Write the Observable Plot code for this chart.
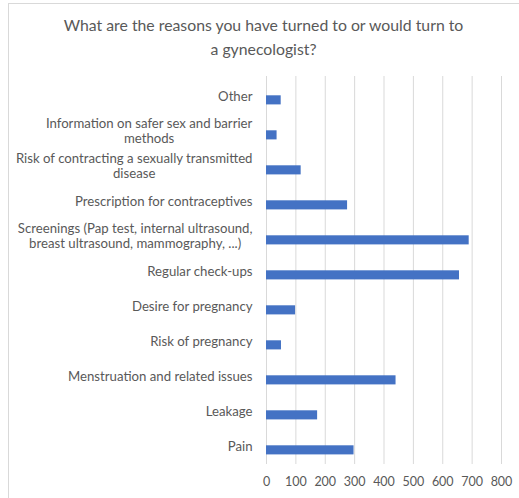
<!DOCTYPE html>
<html><head><meta charset="utf-8">
<script src="https://cdn.jsdelivr.net/npm/d3@7"></script>
<script src="https://cdn.jsdelivr.net/npm/@observablehq/plot@0.6"></script>
<style>
html,body{margin:0;padding:0;background:#fff;overflow:hidden;width:519px;height:498px;}
#frame{position:absolute;left:8px;top:3px;width:530px;height:530px;border:1px solid #d9d9d9;box-sizing:border-box;}
#title{position:absolute;left:8px;top:0;width:511px;text-align:center;font-family:Lato;font-size:15.8px;color:#595959;line-height:24px;padding-top:13px;}
#chart{position:absolute;left:0;top:66px;}
</style></head><body>
<div id="frame"></div>
<div id="title">What are the reasons you have turned to or would turn to<br>a gynecologist?</div>
<div id="chart"></div>
<script>
const categories = [
  "Other",
  "Information on safer sex and barrier\nmethods",
  "Risk of contracting a sexually transmitted\ndisease",
  "Prescription for contraceptives",
  "Screenings (Pap test, internal ultrasound,\nbreast ultrasound, mammography, ...)",
  "Regular check-ups",
  "Desire for pregnancy",
  "Risk of pregnancy",
  "Menstruation and related issues",
  "Leakage",
  "Pain"
];
const counts = [50, 36, 118, 276, 690, 657, 99, 51, 441, 174, 298];
const xTicks = [0, 100, 200, 300, 400, 500, 600, 700, 800];
const data = categories.map((c, i) => ({reason: c, count: counts[i]}));

const plot = Plot.plot({
  width: 519, height: 432,
  marginTop: 10, marginBottom: 34, marginLeft: 266, marginRight: 18,
  style: {fontFamily: "Lato", color: "#595959", background: "transparent", overflow: "visible"},
  x: {domain: [0, 800], ticks: xTicks},
  y: {domain: categories, padding: 0},
  marks: [
    Plot.gridX(xTicks, {stroke: "#d9d9d9", strokeOpacity: 1}),
    Plot.barX(data, {x: "count", y: "reason", fill: "#4472C4", insetTop: 17.3, insetBottom: 8.6}),
    Plot.axisX(xTicks, {tickSize: 0, tickPadding: 13, fontSize: 12.5, label: null, fill: "#595959"}),
    Plot.axisY({tickSize: 0, tickPadding: 14, fontSize: 13.2, lineHeight: 1.1, label: null, fill: "#595959"})
  ]
});
document.getElementById("chart").append(plot);
plot.querySelectorAll('g[aria-label="y-axis tick label"] text').forEach(t => {
  const spans = t.querySelectorAll("tspan");
  if (spans.length > 1) {
    const w = t.getBBox().width;
    t.setAttribute("text-anchor", "middle");
    spans.forEach(s => s.setAttribute("x", -w / 2));
  }
});
</script>
</body></html>
